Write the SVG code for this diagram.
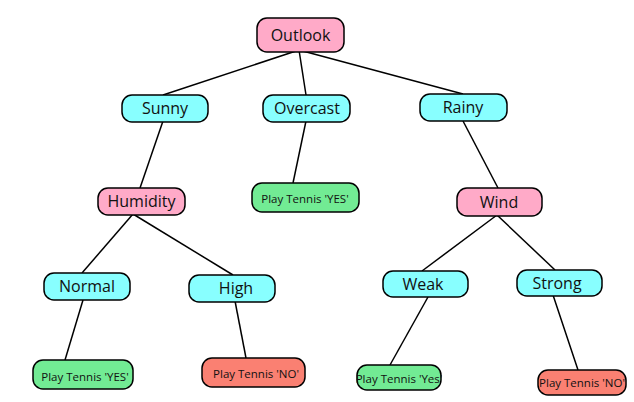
<svg xmlns="http://www.w3.org/2000/svg" width="634" height="402" viewBox="0 0 634 402">
<style>
.n rect{stroke:#000;stroke-width:1.5;rx:10px}
.pink rect{fill:#ffaac8}
.cyan rect{fill:#88ffff}
.green rect{fill:#72eb94}
.red rect{fill:#fa8072}
text{font-family:"Open Sans","Noto Sans","DejaVu Sans",sans-serif;fill:#111;text-anchor:middle;dominant-baseline:central}
.big{font-size:16px}
.small{font-size:11.5px}
#edges line{stroke:#000;stroke-width:1.5}
</style>
<rect width="634" height="402" fill="#fff"/>
<g id="edges">
<line x1="299" y1="50" x2="163" y2="95"/>
<line x1="299" y1="50" x2="306" y2="95"/>
<line x1="299" y1="50" x2="463" y2="94"/>
<line x1="163" y1="121" x2="140" y2="188"/>
<line x1="306" y1="121" x2="293" y2="183"/>
<line x1="463" y1="121" x2="498" y2="188"/>
<line x1="133" y1="214" x2="82" y2="273"/>
<line x1="133" y1="214" x2="233" y2="275"/>
<line x1="497" y1="215" x2="422" y2="271"/>
<line x1="497" y1="215" x2="555" y2="270"/>
<line x1="83" y1="300" x2="65" y2="360"/>
<line x1="235" y1="301" x2="246" y2="358"/>
<line x1="428" y1="297" x2="390" y2="365"/>
<line x1="553" y1="295" x2="578" y2="370"/>
</g>
<g id="outlook" class="n pink"><rect x="257" y="18" width="87" height="34"/><text class="big" x="300.5" y="35">Outlook</text></g>
<g id="sunny" class="n cyan"><rect x="122" y="95" width="86" height="27"/><text class="big" x="165" y="108">Sunny</text></g>
<g id="overcast" class="n cyan"><rect x="263" y="95" width="87" height="27"/><text class="big" x="307" y="108">Overcast</text></g>
<g id="rainy" class="n cyan"><rect x="420" y="94" width="87" height="27"/><text class="big" x="463" y="107">Rainy</text></g>
<g id="humidity" class="n pink"><rect x="98" y="188" width="87" height="27"/><text class="big" x="141.5" y="201">Humidity</text></g>
<g id="overcast-yes" class="n green"><rect x="252" y="183" width="107" height="29"/><text class="small" x="305" y="198">Play Tennis 'YES'</text></g>
<g id="wind" class="n pink"><rect x="457" y="188" width="85" height="28"/><text class="big" x="499" y="202">Wind</text></g>
<g id="normal" class="n cyan"><rect x="44" y="273" width="86" height="27"/><text class="big" x="87" y="286">Normal</text></g>
<g id="high" class="n cyan"><rect x="189" y="275" width="86" height="27"/><text class="big" x="236" y="288">High</text></g>
<g id="weak" class="n cyan"><rect x="383" y="271" width="85" height="26"/><text class="big" x="423" y="284">Weak</text></g>
<g id="strong" class="n cyan"><rect x="517" y="270" width="85" height="26"/><text class="big" x="557" y="283">Strong</text></g>
<g id="normal-yes" class="n green"><rect x="33" y="360" width="100" height="29"/><text class="small" x="85" y="376">Play Tennis 'YES'</text></g>
<g id="high-no" class="n red"><rect x="202" y="358" width="103" height="29"/><text class="small" x="256" y="373">Play Tennis 'NO'</text></g>
<g id="weak-yes" class="n green"><rect x="357" y="365" width="84" height="25"/><text class="small" x="399" y="378">Play Tennis 'Yes'</text></g>
<g id="strong-no" class="n red"><rect x="538" y="370" width="88" height="25"/><text class="small" x="582" y="382">Play Tennis 'NO'</text></g>
</svg>
